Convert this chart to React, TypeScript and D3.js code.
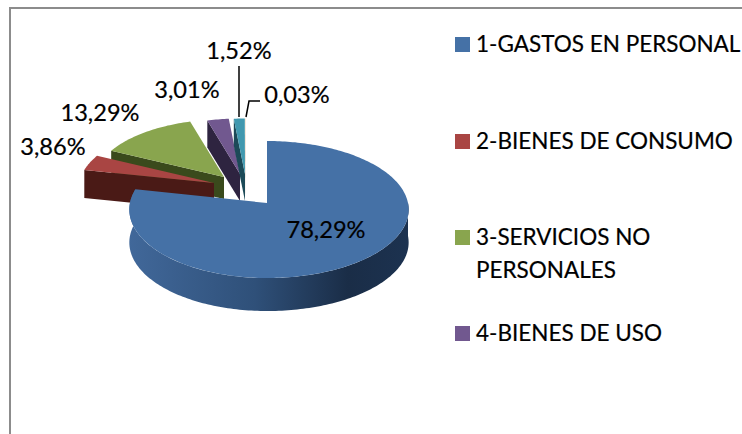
import React from "react";
import * as d3 from "d3";

const sliceNames = ["1-GASTOS EN PERSONAL", "2-BIENES DE CONSUMO", "3-SERVICIOS NO PERSONALES", "4-BIENES DE USO", "5", "6"];
const sliceValues = [78.29, 3.86, 13.29, 3.01, 1.52, 0.03];
const topColors = ["#4571A6", "#A94543", "#89A54E", "#71588F", "#4198AF", "#DB843D"];
const sideColors = ["#2E4F78", "#4A1A16", "#3A4A1C", "#2E2440", "#1C4A58", "#8A5020"];

// layout of the exploded 3D pie
const W = 742, H = 434;
const apexX = [267, 214, 224, 240, 245, 246];
const apexY = [203, 183, 177, 174, 174, 174];
const radii = [141, 135, 130, 125, 125, 125];
const depths = [33, 28, 22, 27, 27, 27];
const leftScale = [0.972, 1, 1, 1, 1, 1];
const drawOrder = [2, 1, 3, 4, 5, 0];
const K = 0.4815, D = 1484;

const labelX = [326, 53, 100, 187, 239, 297];
const labelY = [238, 155, 121, 98, 59, 103];

const legendRows = [
  { i: 0, y: 37, lines: ["1-GASTOS EN PERSONAL"] },
  { i: 1, y: 134, lines: ["2-BIENES DE CONSUMO"] },
  { i: 2, y: 230, lines: ["3-SERVICIOS NO", "PERSONALES"] },
  { i: 3, y: 326, lines: ["4-BIENES DE USO"] },
];

const pie = d3.pie<number>().sort(null).value((d) => d).startAngle(0).endAngle(2 * Math.PI);
const arcs = pie(sliceValues);
const line = d3.line<[number, number]>();
const fmt = d3.format(".2f");
const font = "Lato, 'Open Sans', sans-serif";

function project(i: number, theta: number, r: number, dz = 0): [number, number] {
  let X = r * Math.sin(theta);
  const Y = r * Math.cos(theta);
  if (X < 0) X *= leftScale[i];
  const p = 1 / (1 + Y / D);
  return [apexX[i] + X * p, apexY[i] - Y * K * p + dz];
}
function rim(i: number, a: number, b: number, dz = 0) {
  const n = Math.max(2, Math.ceil(Math.abs(b - a) / 0.02));
  return d3.range(n + 1).map((j) => project(i, a + ((b - a) * j) / n, radii[i], dz));
}

export default function App() {
  const pieces = drawOrder.map((i) => {
    const a = arcs[i];
    const dz = depths[i];
    const apex = project(i, 0, 0);
    const top = line([apex, ...rim(i, a.startAngle, a.endAngle)]) + "Z";
    const s = project(i, a.startAngle, radii[i]);
    const cut = line([apex, s, [s[0], s[1] + dz], [apex[0], apex[1] + dz]]) + "Z";
    let wall: string | null = null;
    if (i === 0) {
      const upper = rim(i, Math.PI / 2, a.endAngle);
      const lower = rim(i, a.endAngle, Math.PI / 2, dz);
      wall = line([...upper, ...lower]) + "Z";
    }
    return (
      <g key={i}>
        {i !== 0 && <path d={cut} fill={sideColors[i]} />}
        {wall && <path d={wall} fill="url(#wall)" />}
        <path d={top} fill={topColors[i]} />
      </g>
    );
  });

  const leaderA = line([[239, 66], [239, 117]]) as string;
  const leaderB = line([[246, 117], [249, 101], [260, 101]]) as string;

  return (
    <svg width={W} height={H} style={{ position: "absolute", left: 0, top: 0, background: "#fff" }}>
      <defs>
        <linearGradient id="wall" gradientUnits="userSpaceOnUse" x1={128} y1={0} x2={410} y2={0}>
          <stop offset="0" stopColor="#41689A" />
          <stop offset="0.45" stopColor="#2F5079" />
          <stop offset="0.78" stopColor="#1A2D47" />
          <stop offset="1" stopColor="#1C3250" />
        </linearGradient>
      </defs>
      <path d={`M10,434V8H742`} fill="none" stroke="#8C8C8C" strokeWidth={2} />
      {pieces}
      <path d={leaderA} fill="none" stroke="#000" strokeWidth={1.5} />
      <path d={leaderB} fill="none" stroke="#000" strokeWidth={1.5} />
      <g fontFamily={font} fontSize={23.6} fill="#000" textAnchor="middle">
        {sliceValues.map((v, i) => (
          <text key={i} x={labelX[i]} y={labelY[i]} stroke="#000" strokeWidth={0.2}>{fmt(v).replace(".", ",")}%</text>
        ))}
      </g>
      <g fontFamily={font} fontSize={22.5} fill="#000">
        {legendRows.map((row) => (
          <g key={row.i}>
            <rect x={455} y={row.y} width={15} height={15} fill={topColors[row.i]} />
            {row.lines.map((t, j) => (
              <text key={j} x={476} y={row.y + 15 + j * 33} stroke="#000" strokeWidth={0.2}>{t}</text>
            ))}
          </g>
        ))}
      </g>
    </svg>
  );
}
